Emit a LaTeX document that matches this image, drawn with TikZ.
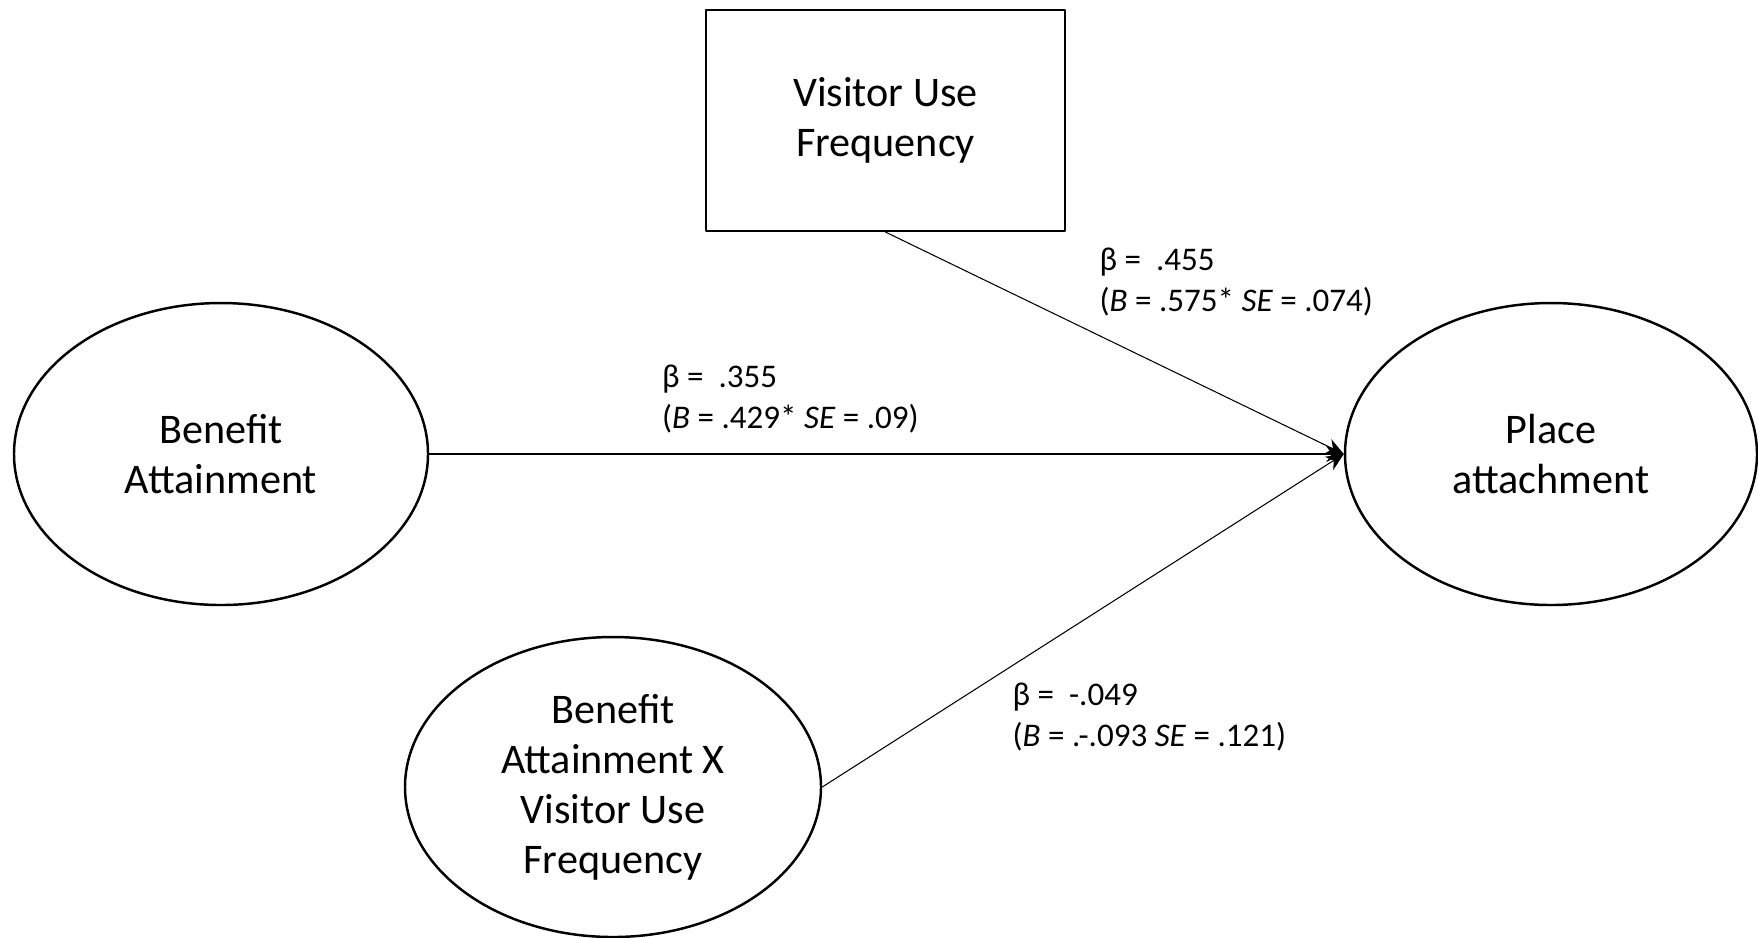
\documentclass[tikz,border=0pt]{standalone}
\usepackage{fontspec}
\setmainfont{Carlito}
\usetikzlibrary{shapes.geometric,arrows.meta}
\begin{document}
\begin{tikzpicture}[scale=1,>={Stealth[length=5pt,width=4.5pt]}, line join=round, line cap=round,
	var/.style={ellipse, draw, line width=0.7pt, inner sep=0pt, minimum width=4.14cm, minimum height=3.02cm, align=center, font=\fontsize{12}{14.2}\selectfont},
	obs/.style={rectangle, draw, line width=0.6pt, inner sep=0pt, minimum width=3.59cm, minimum height=2.21cm, align=center, font=\fontsize{12}{14.2}\selectfont},
	path/.style={->, line width=0.3pt},
	coef/.style={anchor=west, inner sep=0pt, align=left, font=\fontsize{9.4}{11.7}\selectfont}]
			\useasboundingbox (0,0) rectangle (17.58,-9.37);
			% variables
			\node[obs] (vuf) at (8.855,-1.205) {Visitor Use\\Frequency};
			\node[var] (ba) at (2.21,-4.54) {Benefit\\Attainment};
			\node[var, minimum width=4.12cm] (pa) at (15.51,-4.54) {Place\\attachment};
			\node[var, minimum width=4.16cm, minimum height=3.0cm] (bax) at (6.13,-7.87) {Benefit\\Attainment X\\Visitor Use\\Frequency};
			% paths
			\draw[path] (vuf.south) -- (pa.west);
			\draw[path] (ba.east) -- (pa.west);
			\draw[path] (bax.east) -- (pa.west);
			% coefficients
			\node[coef] (c1) at (10.99,-2.82) {β =\ \ .455\\(\textit{B} = .575* \textit{SE} = .074)};
			\node[coef] (c2) at (6.615,-3.99) {β =\ \ .355\\(\textit{B} = .429* \textit{SE} = .09)};
			\node[coef] (c3) at (10.12,-7.17) {β =\ \ -.049\\(\textit{B} = .-.093 \textit{SE} = .121)};
		\end{tikzpicture}
\end{document}
